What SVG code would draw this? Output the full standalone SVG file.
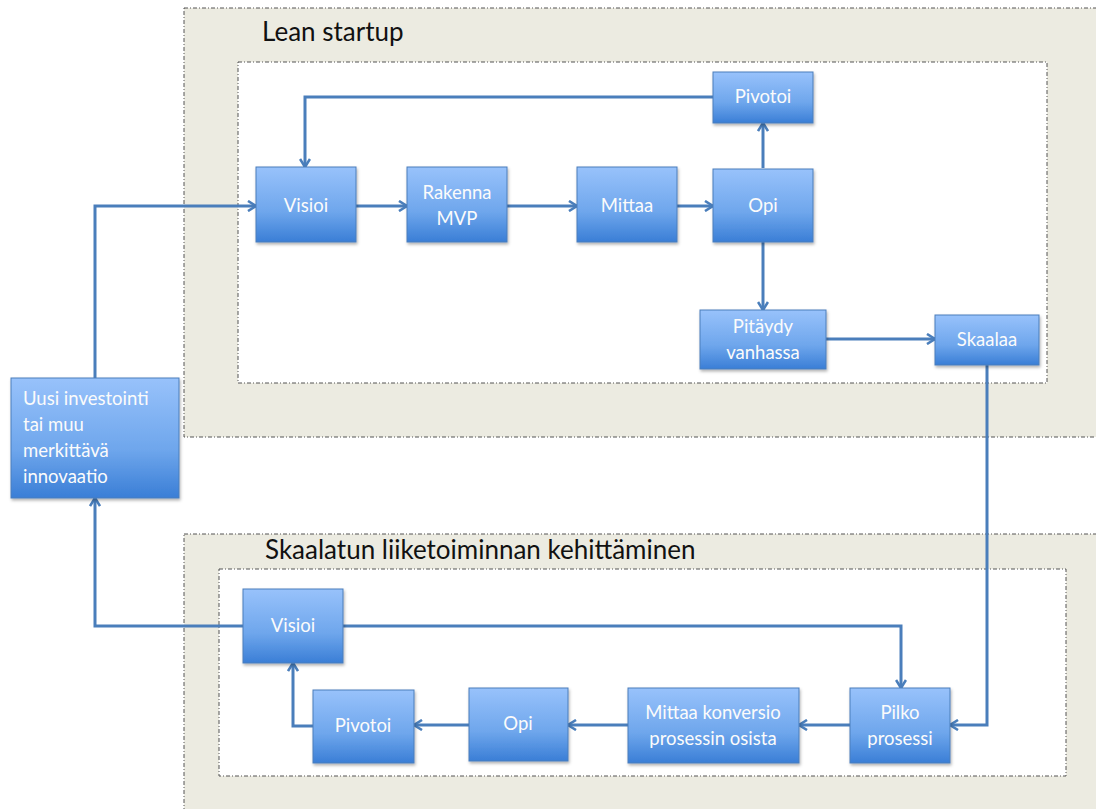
<svg xmlns="http://www.w3.org/2000/svg" width="1096" height="809" viewBox="0 0 1096 809">
<defs>
<linearGradient id="g" x1="0" y1="0" x2="0" y2="1">
<stop offset="0" stop-color="#98c2fb"/>
<stop offset="0.6" stop-color="#6ea6ec"/>
<stop offset="1" stop-color="#3a7ed6"/>
</linearGradient>
<filter id="sh" x="-10%" y="-10%" width="130%" height="140%">
<feDropShadow dx="1" dy="2" stdDeviation="1.5" flood-color="#000" flood-opacity="0.3"/>
</filter>
<marker id="ah" viewBox="0 0 12 12" refX="10" refY="6" markerWidth="12" markerHeight="12" markerUnits="userSpaceOnUse" orient="auto">
<polyline points="2,1 10,6 2,11" fill="none" stroke="#4a7ebb" stroke-width="2.6" stroke-linejoin="miter"/>
</marker>
</defs>
<style>
.outer{fill:#ecebe1;stroke:#555;stroke-width:1;stroke-dasharray:4,2,1,2}
.inner{fill:#fff;stroke:#555;stroke-width:1;stroke-dasharray:4,2,1,2}
.title{font-family:Lato,"Open Sans",sans-serif;font-size:26px;fill:#111}
.box{fill:url(#g);stroke:#4a7ebb;stroke-width:1;filter:url(#sh)}
.lbl{font-family:Lato,"Open Sans",sans-serif;font-size:18.5px;fill:#fbfbfb;text-anchor:middle}
.lbll{font-family:Lato,"Open Sans",sans-serif;font-size:18.5px;fill:#fbfbfb}
.c{fill:none;stroke:#4a7ebb;stroke-width:3}
.ca{fill:none;stroke:#4a7ebb;stroke-width:3;marker-end:url(#ah)}
</style>
<rect width="1096" height="809" fill="#fff"/>
<g id="panels">
<rect class="outer" x="184" y="8" width="920" height="429"/>
<rect class="inner" x="238" y="62" width="809" height="321"/>
<text class="title" x="262" y="41">Lean startup</text>
<rect class="outer" x="184" y="534" width="920" height="290"/>
<rect class="inner" x="219" y="569" width="847" height="207"/>
<text class="title" x="265" y="559">Skaalatun liiketoiminnan kehittäminen</text>
</g>
<g id="connectors">
<polyline class="ca" points="713,97 305,97 305,167"/>
<polyline class="ca" points="95,378 95,206 256,206"/>
<polyline class="ca" points="356,206 407,206"/>
<polyline class="ca" points="507,206 577,206"/>
<polyline class="ca" points="677,206 713,206"/>
<polyline class="ca" points="763,168 763,123"/>
<polyline class="ca" points="763,242 763,310"/>
<polyline class="ca" points="826,339 935,339"/>
<polyline class="ca" points="987,365 987,725 950,725"/>
<polyline class="ca" points="243,626 95,626 95,498"/>
<polyline class="ca" points="343,626 901,626 901,688"/>
<polyline class="ca" points="850,725 799,725"/>
<polyline class="ca" points="628,725 568,725"/>
<polyline class="ca" points="469,725 414,725"/>
<polyline class="ca" points="313,726 293,726 293,663"/>
</g>
<g id="n-visioi1"><rect class="box" x="256" y="167" width="100" height="75"/><text class="lbl" x="306" y="212">Visioi</text></g>
<g id="n-rakenna"><rect class="box" x="407" y="167" width="100" height="75"/><text class="lbl" x="457" y="199">Rakenna</text><text class="lbl" x="457" y="225">MVP</text></g>
<g id="n-mittaa1"><rect class="box" x="577" y="167" width="100" height="75"/><text class="lbl" x="627" y="212">Mittaa</text></g>
<g id="n-opi1"><rect class="box" x="713" y="169" width="100" height="73"/><text class="lbl" x="763" y="212">Opi</text></g>
<g id="n-pivotoi1"><rect class="box" x="713" y="72" width="100" height="51"/><text class="lbl" x="763" y="103">Pivotoi</text></g>
<g id="n-pitaydy"><rect class="box" x="700" y="310" width="126" height="59"/><text class="lbl" x="763" y="333">Pitäydy</text><text class="lbl" x="763" y="359">vanhassa</text></g>
<g id="n-skaalaa"><rect class="box" x="935" y="315" width="104" height="50"/><text class="lbl" x="987" y="346">Skaalaa</text></g>
<g id="n-uusi"><rect class="box" x="11" y="378" width="168" height="120"/>
<text class="lbll" x="23" y="405">Uusi investointi</text>
<text class="lbll" x="23" y="431">tai muu</text>
<text class="lbll" x="23" y="457">merkittävä</text>
<text class="lbll" x="23" y="483">innovaatio</text></g>
<g id="n-visioi2"><rect class="box" x="243" y="589" width="100" height="74"/><text class="lbl" x="293" y="632">Visioi</text></g>
<g id="n-pivotoi2"><rect class="box" x="313" y="690" width="101" height="73"/><text class="lbl" x="363" y="732">Pivotoi</text></g>
<g id="n-opi2"><rect class="box" x="469" y="688" width="99" height="73"/><text class="lbl" x="518" y="730">Opi</text></g>
<g id="n-mittaa2"><rect class="box" x="628" y="688" width="171" height="75"/><text class="lbl" x="713" y="719">Mittaa konversio</text><text class="lbl" x="713" y="745">prosessin osista</text></g>
<g id="n-pilko"><rect class="box" x="850" y="688" width="100" height="75"/><text class="lbl" x="900" y="719">Pilko</text><text class="lbl" x="900" y="745">prosessi</text></g>
</svg>
